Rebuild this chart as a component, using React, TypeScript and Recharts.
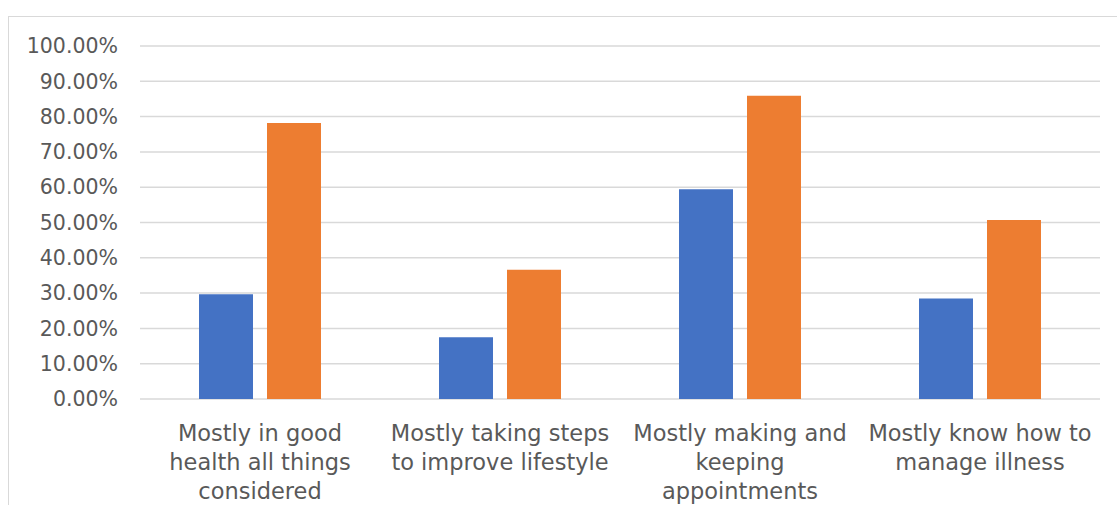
import { BarChart, Bar, XAxis, YAxis, CartesianGrid } from 'recharts'

// categories split into the lines shown under each group
const categories = [
  'Mostly in good health all things considered',
  'Mostly taking steps to improve lifestyle',
  'Mostly making and keeping appointments',
  'Mostly know how to manage illness',
]
const categoryLines = [
  ['Mostly in good', 'health all things', 'considered'],
  ['Mostly taking steps', 'to improve lifestyle'],
  ['Mostly making and', 'keeping', 'appointments'],
  ['Mostly know how to', 'manage illness'],
]
const seriesA = [29.7, 17.5, 59.4, 28.5]
const seriesB = [78.2, 36.6, 85.9, 50.7]
const yTicks = [0, 10, 20, 30, 40, 50, 60, 70, 80, 90, 100]

const FONT = '"DejaVu Sans", sans-serif'

const chartData = categories.map((name, i) => ({
  name,
  a: seriesA[i],
  b: seriesB[i],
}))

function CategoryTick(props: any) {
  const { x, y, payload } = props
  const lines = categoryLines[payload.index] || [payload.value]
  return (
    <text x={x} y={y} textAnchor="middle" fill="#595959" fontSize={22.5} fontFamily={FONT}>
      {lines.map((line, i) => (
        <tspan key={i} x={x} dy={i === 0 ? 34 : 29}>
          {line}
        </tspan>
      ))}
    </text>
  )
}

export default function App() {
  return (
    <div style={{ position: 'absolute', left: 0, top: 0, width: 1117, height: 505, overflow: 'hidden', background: '#fff' }}>
      {/* outer chart frame, only the top and left edges are visible */}
      <div
        style={{
          position: 'absolute',
          left: 8,
          top: 16,
          width: 1200,
          height: 600,
          border: '1px solid #d9d9d9',
          boxSizing: 'border-box',
        }}
      />
      <BarChart
        width={1117}
        height={505}
        data={chartData}
        margin={{ top: 46, right: 17, bottom: 0, left: 0 }}
        barGap={14}
        barCategoryGap={59}
        style={{ position: 'absolute', left: 0, top: 0 }}
      >
        <CartesianGrid vertical={false} stroke="#d9d9d9" strokeWidth={1.5} />
        <XAxis
          dataKey="name"
          axisLine={false}
          tickLine={false}
          height={106}
          interval={0}
          tick={<CategoryTick />}
        />
        <YAxis
          width={140}
          domain={[0, 100]}
          ticks={yTicks}
          axisLine={false}
          tickLine={false}
          tickMargin={16}
          tickFormatter={(v: number) => `${v.toFixed(2)}%`}
          tick={{ fill: '#595959', fontSize: 20.5, fontFamily: FONT }}
        />
        <Bar dataKey="a" fill="#4472C4" isAnimationActive={false} />
        <Bar dataKey="b" fill="#ED7D31" isAnimationActive={false} />
      </BarChart>
    </div>
  )
}
